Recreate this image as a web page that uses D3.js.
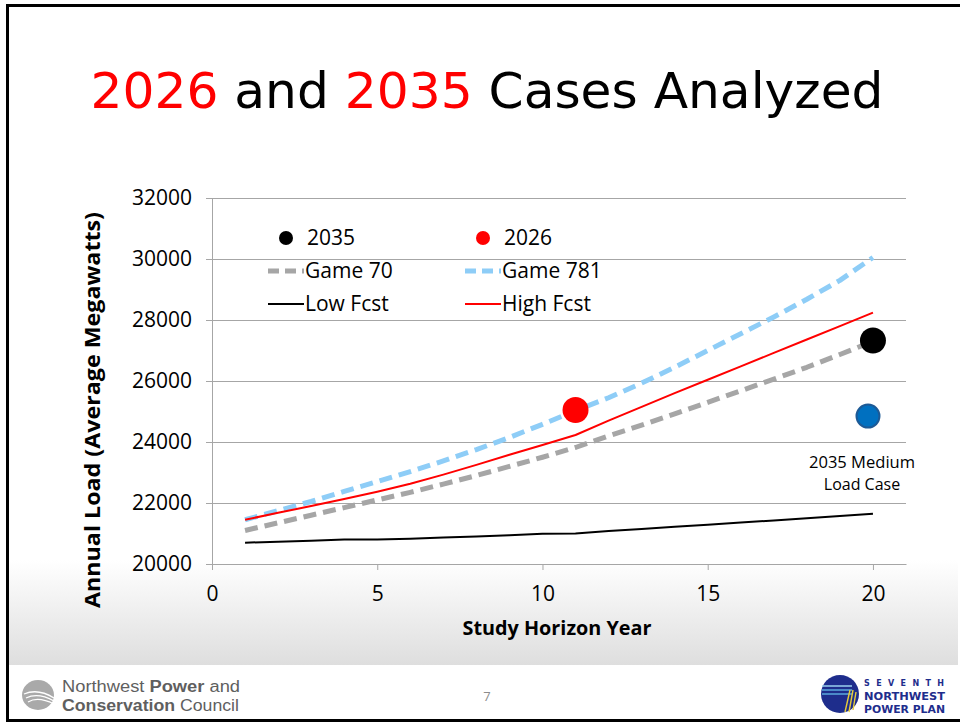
<!DOCTYPE html>
<html>
<head>
<meta charset="utf-8">
<script src="https://cdn.jsdelivr.net/npm/d3@7"></script>
<style>
  html, body { margin: 0; padding: 0; background: #fff; }
  svg { display: block; }
</style>
</head>
<body>
<svg id="slide"></svg>
<script>
const width = 960, height = 723;
const margin = { top: 198, right: 54, bottom: 159, left: 212 };

// study horizon years
const years = [1, 2, 3, 4, 5, 6, 7, 8, 9, 10, 11, 12, 13, 14, 15, 16, 17, 18, 19, 20];

// annual load, average megawatts
const game70 = [21100, 21350, 21600, 21850, 22100, 22350, 22620, 22900, 23200, 23500,
                23820, 24200, 24550, 24920, 25300, 25680, 26060, 26450, 26870, 27300];
const game781 = [21450, 21750, 22050, 22380, 22700, 23030, 23380, 23750, 24150, 24580,
                 25030, 25450, 25930, 26450, 27000, 27550, 28100, 28680, 29300, 30050];
const lowFcst = [20700, 20730, 20760, 20800, 20800, 20830, 20870, 20900, 20940, 20990,
                 21000, 21080, 21150, 21220, 21290, 21360, 21430, 21500, 21570, 21650];
const highFcst = [21450, 21680, 21900, 22130, 22370, 22630, 22930, 23250, 23580, 23900,
                  24230, 24700, 25150, 25600, 26040, 26480, 26920, 27360, 27800, 28240];

// single cases
const case2026 = { year: 11, load: 25050 };
const case2035 = { year: 20, load: 27330 };
const case2035Medium = { year: 19.85, load: 24850 };

const xTicks = [0, 5, 10, 15, 20];
const yTicks = [20000, 22000, 24000, 26000, 28000, 30000, 32000];

const svg = d3.select("#slide").attr("width", width).attr("height", height);

// ---- slide background ----
const defs = svg.append("defs");
const grad = defs.append("linearGradient").attr("id", "bg").attr("x1", 0).attr("x2", 0).attr("y1", 0).attr("y2", 1);
grad.append("stop").attr("offset", "0").attr("stop-color", "#ffffff");
grad.append("stop").attr("offset", "1").attr("stop-color", "#dedede");

svg.append("rect").attr("width", width).attr("height", height).attr("fill", "#fff");
svg.append("rect").attr("x", 8).attr("y", 560).attr("width", 950).attr("height", 105).attr("fill", "url(#bg)");
svg.append("rect").attr("x", 8).attr("y", 665).attr("width", 950).attr("height", 55).attr("fill", "#fff");
svg.append("rect").attr("x", 7.5).attr("y", 5.5).attr("width", 955).attr("height", 715)
    .attr("fill", "none").attr("stroke", "#000").attr("stroke-width", 3);

// ---- title ----
const title = svg.append("text")
    .attr("x", 487).attr("y", 108)
    .attr("text-anchor", "middle")
    .attr("font-family", "'DejaVu Sans', sans-serif")
    .attr("font-size", 50)
    .attr("textLength", 793).attr("lengthAdjust", "spacingAndGlyphs");
title.append("tspan").attr("fill", "#ff0000").text("2026");
title.append("tspan").attr("fill", "#000").text(" and ");
title.append("tspan").attr("fill", "#ff0000").text("2035");
title.append("tspan").attr("fill", "#000").text(" Cases Analyzed");

// ---- scales ----
const x = d3.scaleLinear().domain([0, 21]).range([margin.left, width - margin.right]);
const y = d3.scaleLinear().domain([20000, 32000]).range([height - margin.bottom, margin.top]);

const font = "'Open Sans', 'Liberation Sans', sans-serif";

// plot area
svg.append("rect")
    .attr("x", x(0)).attr("y", y(32000))
    .attr("width", x(21) - x(0)).attr("height", y(20000) - y(32000))
    .attr("fill", "#fff");

// y axis with gridlines
svg.append("g")
    .attr("transform", `translate(${x(0)},0)`)
    .call(d3.axisLeft(y).tickValues(yTicks).tickSize(6).tickFormat(d3.format("d")))
    .call(g => g.selectAll(".tick line").clone()
        .attr("x2", x(21) - x(0)).attr("stroke", "#a6a6a6"))
    .call(g => g.selectAll(".tick line").attr("stroke", "#a6a6a6"))
    .call(g => g.select(".domain").attr("stroke", "#a6a6a6"))
    .call(g => g.selectAll(".tick text")
        .attr("x", -20).attr("font-family", font).attr("font-size", 21).attr("fill", "#000"));

// x axis
svg.append("g")
    .attr("transform", `translate(0,${y(20000)})`)
    .call(d3.axisBottom(x).tickValues(xTicks).tickSize(6).tickSizeOuter(0))
    .call(g => g.selectAll(".tick line").attr("stroke", "#a6a6a6"))
    .call(g => g.select(".domain").attr("stroke", "#a6a6a6"))
    .call(g => g.selectAll(".tick text")
        .attr("y", 22).attr("font-family", font).attr("font-size", 21).attr("fill", "#000"));

// axis titles
svg.append("text")
    .attr("x", 557).attr("y", 635)
    .attr("text-anchor", "middle")
    .attr("font-family", font).attr("font-weight", "bold").attr("font-size", 20)
    .attr("textLength", 189).attr("lengthAdjust", "spacingAndGlyphs")
    .text("Study Horizon Year");

svg.append("text")
    .attr("transform", "translate(100,410) rotate(-90)")
    .attr("text-anchor", "middle")
    .attr("font-family", font).attr("font-weight", "bold").attr("font-size", 21)
    .attr("textLength", 396).attr("lengthAdjust", "spacingAndGlyphs")
    .text("Annual Load (Average Megawatts)");

// ---- series ----
const series = [
  { name: "Game 70", values: game70, color: "#a6a6a6", width: 5, dash: "13,7" },
  { name: "Game 781", values: game781, color: "#8ecdf7", width: 5, dash: "13,7" },
  { name: "Low Fcst", values: lowFcst, color: "#000000", width: 2, dash: null },
  { name: "High Fcst", values: highFcst, color: "#ff0000", width: 2, dash: null }
];

const line = d3.line()
    .x((d, i) => x(years[i]))
    .y(d => y(d));

svg.append("g")
    .selectAll("path")
    .data(series)
    .join("path")
    .attr("d", d => line(d.values))
    .attr("fill", "none")
    .attr("stroke", d => d.color)
    .attr("stroke-width", d => d.width)
    .attr("stroke-dasharray", d => d.dash)
    .attr("stroke-linejoin", "round");

// case points
svg.append("circle")
    .attr("cx", x(case2026.year)).attr("cy", y(case2026.load))
    .attr("r", 13).attr("fill", "#ff0000");
svg.append("circle")
    .attr("cx", x(case2035.year)).attr("cy", y(case2035.load))
    .attr("r", 13).attr("fill", "#000");
svg.append("circle")
    .attr("cx", x(case2035Medium.year)).attr("cy", y(case2035Medium.load))
    .attr("r", 11.5).attr("fill", "#0070c0").attr("stroke", "#1d5a96").attr("stroke-width", 2);

const note = svg.append("text")
    .attr("text-anchor", "middle")
    .attr("font-family", font).attr("font-size", 16);
note.append("tspan").attr("x", 862).attr("y", 468).attr("textLength", 106).attr("lengthAdjust", "spacingAndGlyphs").text("2035 Medium");
note.append("tspan").attr("x", 862).attr("y", 490).text("Load Case");

// ---- legend ----
const legendItems = [
  { name: "2035", type: "dot", color: "#000", col: 0, row: 0 },
  { name: "2026", type: "dot", color: "#ff0000", col: 1, row: 0 },
  { name: "Game 70", type: "line", s: series[0], col: 0, row: 1 },
  { name: "Game 781", type: "line", s: series[1], col: 1, row: 1 },
  { name: "Low Fcst", type: "line", s: series[2], col: 0, row: 2 },
  { name: "High Fcst", type: "line", s: series[3], col: 1, row: 2 }
];

const legend = svg.append("g")
    .selectAll("g")
    .data(legendItems)
    .join("g")
    .attr("transform", d => `translate(${268 + d.col * 197},${238 + d.row * 33})`);

legend.filter(d => d.type === "dot").append("circle")
    .attr("cx", 18).attr("cy", 0).attr("r", 7).attr("fill", d => d.color);

legend.filter(d => d.type === "line").append("line")
    .attr("x1", 0).attr("x2", 36).attr("y1", 0).attr("y2", 0)
    .attr("stroke", d => d.s.color)
    .attr("stroke-width", d => d.s.width === 5 ? 5 : 2)
    .attr("stroke-dasharray", d => d.s.dash ? "11,6" : null);

legend.append("text")
    .attr("x", d => d.type === "dot" ? 39 : 37).attr("y", 7)
    .attr("font-family", font).attr("font-size", 21)
    .text(d => d.name);

// ---- footer ----
const footer = svg.append("g");
// council logo
footer.append("ellipse").attr("cx", 38).attr("cy", 695).attr("rx", 16).attr("ry", 15).attr("fill", "#a9a9a9");
[0, 1, 2].forEach(i => {
  footer.append("path")
      .attr("d", `M${24 + i * 2},${694 + i * 4} Q${38},${688 + i * 4} ${54},${698 + i * 3}`)
      .attr("fill", "none").attr("stroke", "#fff").attr("stroke-width", 1.3);
});
const fText = footer.append("g").attr("font-family", "'Liberation Sans', sans-serif").attr("font-size", 16).attr("fill", "#5f5f5f");
const l1 = fText.append("text").attr("x", 62).attr("y", 692)
    .attr("textLength", 178).attr("lengthAdjust", "spacingAndGlyphs");
l1.append("tspan").text("Northwest ");
l1.append("tspan").attr("font-weight", "bold").text("Power");
l1.append("tspan").text(" and");
const l2 = fText.append("text").attr("x", 62).attr("y", 711)
    .attr("textLength", 177).attr("lengthAdjust", "spacingAndGlyphs");
l2.append("tspan").attr("font-weight", "bold").text("Conservation");
l2.append("tspan").text(" Council");

footer.append("text")
    .attr("x", 487).attr("y", 701).attr("text-anchor", "middle")
    .attr("font-family", font).attr("font-size", 13).attr("fill", "#8c8c8c")
    .text("7");

// power plan logo
footer.append("circle").attr("cx", 840).attr("cy", 694).attr("r", 19).attr("fill", "#1e2d8c");
[686, 690, 694].forEach((yy, i) => {
  footer.append("line").attr("x1", 822).attr("x2", 852).attr("y1", yy).attr("y2", yy)
      .attr("stroke", i === 0 ? "#9ad0ee" : "#5aa8dc").attr("stroke-width", 1.5);
});
footer.append("path").attr("d", "M850,690 L845,712 M853,690 L849,712 M856,692 L853,710")
    .attr("fill", "none").attr("stroke", "#e6cc3a").attr("stroke-width", 1.4);
const pText = footer.append("g").attr("font-family", "'DejaVu Sans', sans-serif").attr("font-weight", "bold").attr("fill", "#1e2d8c");
pText.append("text").attr("x", 864).attr("y", 686).attr("font-size", 8)
    .attr("textLength", 80).attr("lengthAdjust", "spacing").text("SEVENTH");
pText.append("text").attr("x", 864).attr("y", 700).attr("font-size", 11)
    .attr("textLength", 81).attr("lengthAdjust", "spacingAndGlyphs").text("NORTHWEST");
pText.append("text").attr("x", 864).attr("y", 713).attr("font-size", 11)
    .attr("textLength", 81).attr("lengthAdjust", "spacingAndGlyphs").text("POWER PLAN");
</script>
</body>
</html>
